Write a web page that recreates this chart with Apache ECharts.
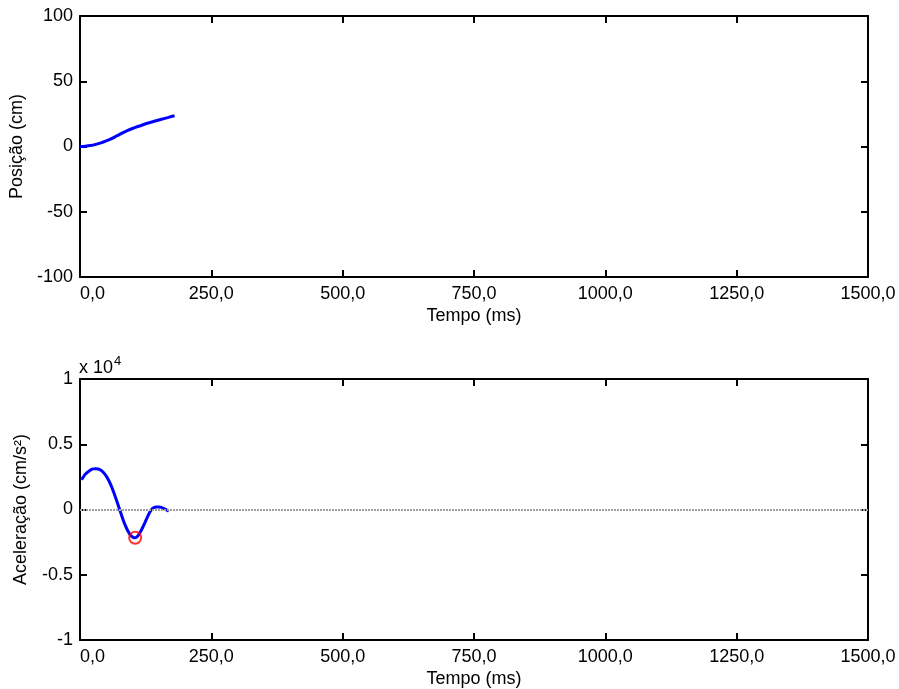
<!DOCTYPE html>
<html>
<head>
<meta charset="utf-8">
<script src="https://cdn.jsdelivr.net/npm/echarts@6/dist/echarts.min.js"></script>
<style>
html,body{margin:0;padding:0;background:#fff;}
#c{width:899px;height:689px;}
</style>
</head>
<body>
<div id="c"></div>
<script>
// Position (cm) vs time (ms)
const posTime = [0,10,20,30,40,50,60,70,80,90,100,110,120,130,140,150,160,170,180];
const posVals = [0,0.2,0.7,1.6,2.8,4.3,6.0,8.1,10.2,12.1,13.8,15.3,16.7,18.0,19.2,20.3,21.4,22.5,23.5];
// Acceleration (cm/s^2) vs time (ms)
const accTime = [3,10,20,25,30,35,40,45,50,55,60,65,70,75,80,85,90,95,100,105,110,115,120,125,130,135,140,145,150,155,160,165,169];
const accVals = [2280,2700,3030,3110,3130,3100,3000,2820,2560,2200,1750,1230,650,50,-550,-1100,-1550,-1900,-2100,-2170,-2030,-1720,-1320,-880,-430,-60,140,200,200,160,70,-40,-130];
// Marked minimum
const minPoint = [[105,-2170]];
// Axis ticks
const xTicks = {min:0, max:1500, interval:250};
const posTicks = {min:-100, max:100, interval:50};
const accTicks = {min:-10000, max:10000, interval:5000};

const FONT = 'Liberation Sans, Arial, sans-serif';
const fs = 18;
const axisLine = {show:true, onZero:false, lineStyle:{color:'#000', width:2}};
const tick = {show:true, inside:true, length:7, lineStyle:{color:'#000', width:2}};
const xFmt = v => v.toFixed(1).replace('.', ',');

function xAxes(gi){
  return [
    {type:'value', gridIndex:gi, min:xTicks.min, max:xTicks.max, interval:xTicks.interval,
     name:'Tempo (ms)', nameLocation:'middle', nameGap:30,
     nameTextStyle:{fontFamily:FONT, fontSize:fs, color:'#000'},
     axisLine, axisTick:tick, splitLine:{show:false},
     axisLabel:{formatter:xFmt, fontFamily:FONT, fontSize:fs, color:'#000', margin:8, alignMinLabel:'left'}},
    {type:'value', gridIndex:gi, position:'top', min:xTicks.min, max:xTicks.max, interval:xTicks.interval,
     axisLine, axisTick:tick, splitLine:{show:false}, axisLabel:{show:false}}
  ];
}
function yAxes(gi, t, name, fmt){
  return [
    {type:'value', gridIndex:gi, position:'left', min:t.min, max:t.max, interval:t.interval,
     name:name, nameLocation:'middle', nameGap:50, nameRotate:90,
     nameTextStyle:{fontFamily:FONT, fontSize:fs, color:'#000'},
     axisLine, axisTick:tick, splitLine:{show:false},
     axisLabel:{formatter:fmt, fontFamily:FONT, fontSize:fs, color:'#000', margin:7}},
    {type:'value', gridIndex:gi, position:'right', min:t.min, max:t.max, interval:t.interval,
     axisLine, axisTick:tick, splitLine:{show:false}, axisLabel:{show:false}}
  ];
}

const chart = echarts.init(document.getElementById('c'), null, {renderer:'canvas'});
chart.setOption({
  animation:false,
  backgroundColor:'#fff',
  title:{
    text:'x 10{s|4}', left:79, top:355, padding:0,
    textStyle:{fontFamily:FONT, fontSize:18, fontWeight:'normal', color:'#000',
      rich:{s:{fontFamily:FONT, fontSize:13, color:'#000', verticalAlign:'top', padding:[0,0,14,1]}}}
  },
  grid:[
    {left:80, right:31, top:16, height:261},
    {left:80, right:31, top:379, height:261}
  ],
  xAxis:[...xAxes(0), ...xAxes(1)],
  yAxis:[...yAxes(0, posTicks, 'Posição (cm)', v => String(v)),
         ...yAxes(1, accTicks, 'Aceleração (cm/s²)', v => String(v/10000))],
  series:[
    {type:'line', xAxisIndex:0, yAxisIndex:0, data:posTime.map((t,i)=>[t,posVals[i]]),
     smooth:0.3, showSymbol:false, lineStyle:{color:'#0000ff', width:3}},
    {type:'line', xAxisIndex:2, yAxisIndex:2, data:accTime.map((t,i)=>[t,accVals[i]]),
     smooth:0.3, showSymbol:false, lineStyle:{color:'#0000ff', width:3}, z:3,
     markLine:{silent:true, symbol:'none', label:{show:false},
       lineStyle:{type:[2,1], color:'#a0a0a0', width:2}, data:[{yAxis:0}]}},
    {type:'scatter', xAxisIndex:2, yAxisIndex:2, data:minPoint, symbol:'circle', symbolSize:12,
     itemStyle:{color:'rgba(0,0,0,0)', borderColor:'#ff0000', borderWidth:2}, z:4}
  ]
});
</script>
</body>
</html>
